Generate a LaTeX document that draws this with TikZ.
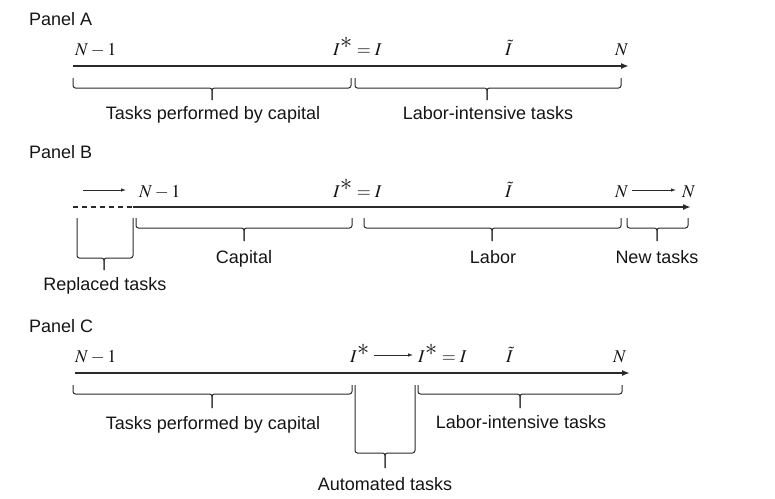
\documentclass[tikz,border=0pt]{standalone}
\usepackage{mathptmx}
\usepackage{fontspec}
\newfontfamily\sff{Liberation Sans}
\usetikzlibrary{arrows.meta}
\definecolor{lc}{HTML}{2A2A2A}
\definecolor{tc}{HTML}{151515}
\newcommand\bigstar{{\scalebox{1.35}{$\ast$}}}
\newcommand\mybrace[6]{%
  \draw[brc] (#1,#4) -- (#1,#5) -- (#3,#5) -- (#3,#6);
  \draw[brc] (#2,#4) -- (#2,#5) -- (#3,#5) -- (#3,#6);}
\begin{document}
\begin{tikzpicture}[x=1pt,y=-1pt,
  axis/.style={line width=2.3pt, draw=lc, -{Latex[length=8pt,width=6pt]}},
  small/.style={line width=0.8pt, draw=lc, -{Latex[length=5pt,width=3.5pt]}},
  brc/.style={line width=1pt, draw=lc, rounded corners=2.5pt},
  lab/.style={font=\sff\fontsize{18}{21}\selectfont, text=tc, inner sep=0pt, anchor=base},
  pan/.style={font=\sff\fontsize{18}{21}\selectfont, text=tc, inner sep=0pt, anchor=base west},
  mth/.style={font=\fontsize{18}{21}\selectfont, text=tc, inner sep=0pt, anchor=base west}]
\useasboundingbox (0,0) rectangle (775,498);
% ---------- Panel A ----------
\node[pan] (pA) at (29,25) {Panel A};
\coordinate (a0) at (73,66);
\coordinate (a1) at (629,66);
\draw[axis] (a0) -- (a1);
\node[mth] (aN1) at (75,55) {$N-1$};
\node[mth] (aI) at (333,55) {$I^{\bigstar}=I$};
\node[mth] (aIt) at (505,55) {$\tilde{I}$};
\node[mth] (aN) at (615,55) {$N$};
\mybrace{73}{351}{212}{78}{88}{100}
\mybrace{355}{621}{487}{78}{88}{100}
\node[lab] (aT1) at (213,119) {Tasks performed by capital};
\node[lab] (aT2) at (488,119) {Labor-intensive tasks};
% ---------- Panel B ----------
\node[pan] (pB) at (29,158) {Panel B};
\coordinate (b0) at (73,207);
\coordinate (bm) at (133,207);
\coordinate (b1) at (691,207);
\draw[line width=2.3pt, draw=lc, dash pattern=on 5pt off 4pt] (b0) -- (bm);
\draw[axis] (bm) -- (b1);
\coordinate (bs0) at (83,190);
\coordinate (bs1) at (126,190);
\draw[small] (bs0) -- (bs1);
\node[mth] (bN1) at (139,197) {$N-1$};
\node[mth] (bI) at (333,197) {$I^{\bigstar}=I$};
\node[mth] (bIt) at (505,197) {$\tilde{I}$};
\node[mth] (bN) at (615,197) {$N$};
\node[mth] (bN2) at (682,197) {$N$};
\draw[small] ([xshift=4pt]bN.east |- 0,190) -- ([xshift=-6pt]bN2.west |- 0,190);
\mybrace{136}{352}{244}{218}{228}{241}
\mybrace{364}{621}{492}{218}{228}{241}
\mybrace{627}{688}{657}{218}{228}{241}
\mybrace{77}{133}{104}{218}{258}{270}
\node[lab] (bT1) at (244,263) {Capital};
\node[lab] (bT2) at (493,263) {Labor};
\node[lab] (bT3) at (657,263) {New tasks};
\node[lab] (bT4) at (105,290) {Replaced tasks};
% ---------- Panel C ----------
\node[pan] (pC) at (29,332) {Panel C};
\coordinate (c0) at (75,373);
\coordinate (c1) at (630,373);
\draw[axis] (c0) -- (c1);
\node[mth] (cN1) at (75,362) {$N-1$};
\node[mth] (cIs) at (350,362) {$I^{\bigstar}$};
\node[mth] (cI) at (418,362) {$I^{\bigstar}=I$};
\node[mth] (cIt) at (506,362) {$\tilde{I}$};
\node[mth] (cN) at (613,362) {$N$};
\draw[small] ([xshift=4pt]cIs.east |- 0,355) -- ([xshift=-5pt]cI.west |- 0,355);
\mybrace{73}{352}{212}{385}{394}{408}
\mybrace{355}{415}{385}{385}{453}{468}
\mybrace{418}{622}{520}{385}{394}{408}
\node[lab] (cT1) at (213,429) {Tasks performed by capital};
\node[lab] (cT2) at (521,428) {Labor-intensive tasks};
\node[lab] (cT3) at (385,490) {Automated tasks};
\end{tikzpicture}
\end{document}
